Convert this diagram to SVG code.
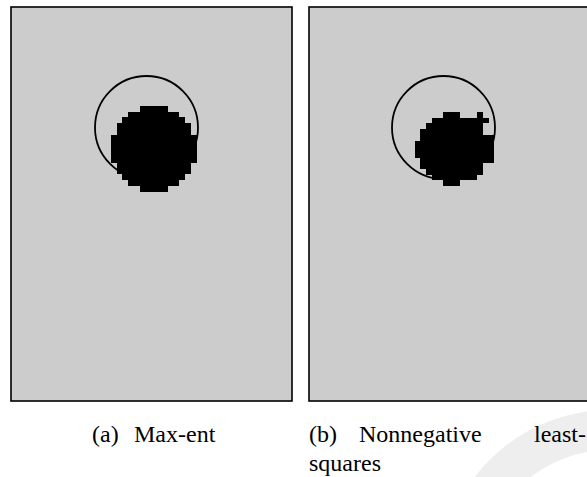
<svg xmlns="http://www.w3.org/2000/svg" width="587" height="477" viewBox="0 0 587 477">
  <style>
    .panel { fill: #cccccc; stroke: #000000; stroke-width: 1.6; }
    .ring { fill: none; stroke: #000000; stroke-width: 1.8; }
    .blob { fill: #000000; shape-rendering: crispEdges; }
    .cap { font-family: "Liberation Serif", "Times New Roman", serif; font-size: 24px; fill: #000000; }
    .mark { fill: none; stroke: #eeeeee; stroke-width: 40; }
  </style>

  <rect width="587" height="477" fill="#ffffff"/>

  <!-- faint background mark, lower right -->
  <circle class="mark" cx="610" cy="580" r="150"/>

  <!-- panel (a): maximum-entropy reconstruction -->
  <g id="panel-a">
    <rect class="panel" x="11" y="7" width="281" height="394"/>
    <circle class="ring" cx="146.5" cy="127.5" r="51.5"/>
    <!-- reconstructed blob, 5.7 px cells -->
    <path class="blob" transform="translate(111,106) scale(5.7)"
          d="M5 0h5v1h-5z M3 1h9v1h-9z M2 2h11v1h-11z M1 3h13v2h-13z
             M0 5h15v5h-15z M1 10h13v2h-13z M2 12h11v1h-11z
             M3 13h9v1h-9z M5 14h5v1h-5z"/>
  </g>

  <!-- panel (b): nonnegative least-squares reconstruction -->
  <g id="panel-b">
    <rect class="panel" x="309" y="7" width="290" height="394"/>
    <circle class="ring" cx="443.5" cy="127.5" r="51.5"/>
    <path class="blob" transform="translate(414.5,112) scale(5.7)"
          d="M5 0h3v1h-3z M11 0h1v1h-1z M3 1h10v1h-10z
             M2 2h10v1h-10z M1 3h11v1h-11z M1 4h13v1h-13z
             M0 5h14v3h-14z M1 8h13v1h-13z M1 9h11v1h-11z
             M2 10h10v1h-10z M3 11h8v1h-8z M5 12h3v1h-3z"/>
  </g>

  <!-- captions -->
  <g id="caption-a">
    <text class="cap" y="442"><tspan x="92">(a)</tspan><tspan x="134">Max-ent</tspan></text>
  </g>
  <g id="caption-b">
    <text class="cap" y="442"><tspan x="309">(b)</tspan><tspan x="359">Nonnegative</tspan></text>
    <text class="cap" x="586" y="442" text-anchor="end">least-</text>
    <text class="cap" x="309" y="471">squares</text>
  </g>
</svg>
